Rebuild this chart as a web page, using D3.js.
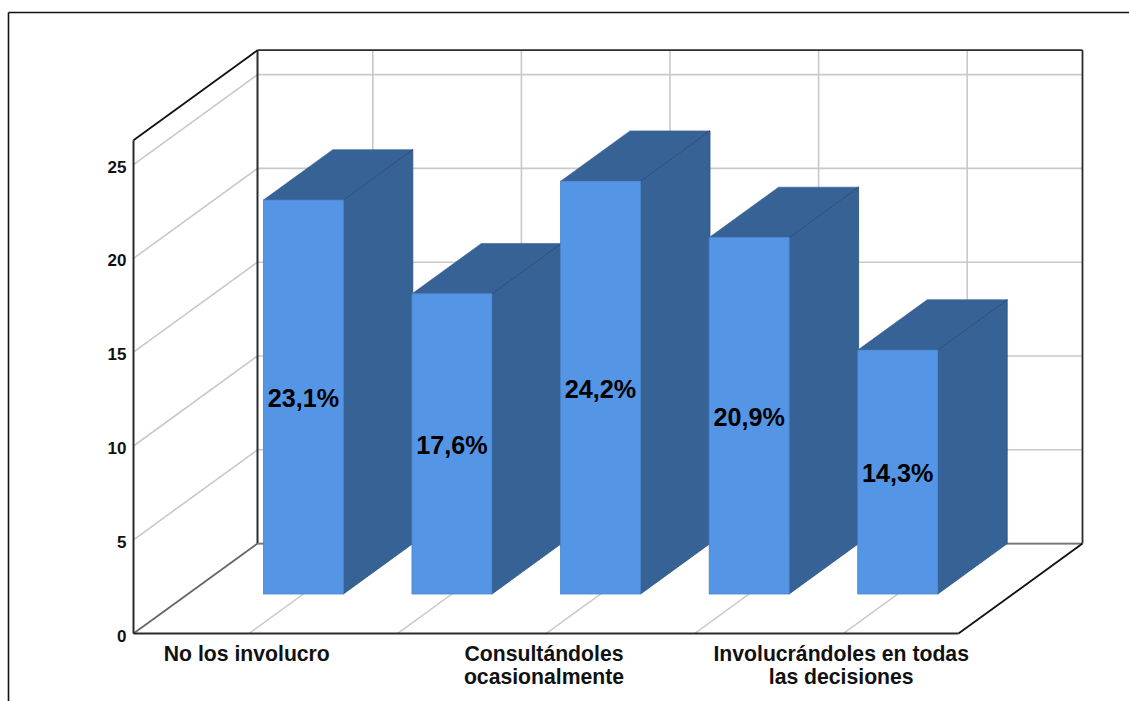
<!DOCTYPE html>
<html>
<head>
<meta charset="utf-8">
<script src="https://cdn.jsdelivr.net/npm/d3@7/dist/d3.min.js"></script>
<style>
  html, body { margin: 0; padding: 0; background: #fff; }
  svg { display: block; }
  text { font-family: "Liberation Sans", Arial, sans-serif; font-weight: bold; fill: #111; }
</style>
</head>
<body>
<div id="chart"></div>
<script>
// Respondent counts per answer, with the percentage printed on each bar
const categories = ["a", "b", "c", "d", "e"];
const counts = [21, 16, 22, 19, 13];
const percentLabels = ["23,1%", "17,6%", "24,2%", "20,9%", "14,3%"];
const categoryLabels = [
  { cat: "a", lines: ["No los involucro"] },
  { cat: "c", lines: ["Consultándoles", "ocasionalmente"] },
  { cat: "e", lines: ["Involucrándoles en todas", "las decisiones"] }
];
const yTicks = [0, 5, 10, 15, 20, 25];
const wallTopValue = 26.3;

const width = 1129, height = 701;
const depth = { dx: 124, dy: -90 };     // offset from the front plane to the back wall
const barStart = 0.44;                  // share of the depth where the bars begin
const barWidth = 80;
const colors = { front: "#5595e5", side: "#376295", edge: "#2a4f7c", grid: "#c9c9c9", axis: "#2b2b2b" };

const svg = d3.select("#chart").append("svg").attr("width", width).attr("height", height);

const x = d3.scalePoint().domain(categories).range([133.5, 958.5]).padding(0.776);
const y = d3.scaleLinear().domain([0, 25]).range([633.6, 164.6]);

const line = (g, x1, y1, x2, y2, color, w) => g.append("line")
  .attr("x1", x1).attr("y1", y1).attr("x2", x2).attr("y2", y2)
  .attr("stroke", color).attr("stroke-width", w);

// Outer frame: only the top and left edges are visible
const frame = svg.append("g");
line(frame, 8.5, 12.5, width, 12.5, "#111", 1.6);
line(frame, 8.5, 12.5, 8.5, height, "#111", 1.6);

// Grid lines on the side wall, the back wall and the floor
const grid = svg.append("g");
yTicks.filter(t => t > 0).forEach(t => {
  line(grid, x.range()[0], y(t), x.range()[0] + depth.dx, y(t) + depth.dy, colors.grid, 1.6);
});
yTicks.forEach(t => {
  line(grid, x.range()[0] + depth.dx, y(t) + depth.dy, x.range()[1] + depth.dx, y(t) + depth.dy, colors.grid, 1.6);
});
categories.forEach(c => {
  line(grid, x(c), y(0), x(c) + depth.dx, y(0) + depth.dy, colors.grid, 1.4);
  line(grid, x(c) + depth.dx, y(0) + depth.dy, x(c) + depth.dx, y(wallTopValue) + depth.dy, colors.grid, 1.6);
});

// Box edges of the plot
const box = svg.append("g");
const [x0, x1] = x.range();
const yTop = y(wallTopValue), yBase = y(0);
line(box, x0 + depth.dx, yTop + depth.dy, x1 + depth.dx, yTop + depth.dy, colors.axis, 1.8);
line(box, x0 + depth.dx, yTop + depth.dy, x0 + depth.dx, yBase + depth.dy, colors.axis, 2);
line(box, x1 + depth.dx, yTop + depth.dy, x1 + depth.dx, yBase + depth.dy, colors.axis, 1.8);
line(box, x0 + depth.dx, yBase + depth.dy, x1 + depth.dx, yBase + depth.dy, "#777", 1.8);
line(box, x0, yBase, x0 + depth.dx, yBase + depth.dy, "#666", 1.8);
line(box, x0, yTop, x0 + depth.dx, yTop + depth.dy, "#111", 1.8);
line(box, x1, yBase, x1 + depth.dx, yBase + depth.dy, "#111", 1.8);
line(box, x0, yBase, x1, yBase, colors.axis, 2);
line(box, x0, yTop, x0, yBase, colors.axis, 2);

// Bars, painted left to right so each one covers its neighbour's side face
const ox = depth.dx * barStart, oy = depth.dy * barStart;
const rx = depth.dx * (1 - barStart), ry = depth.dy * (1 - barStart);
const bars = svg.append("g").selectAll("g")
  .data(categories.map((c, i) => ({ c, v: counts[i], label: percentLabels[i] })))
  .join("g");

const poly = pts => pts.map(p => p.join(",")).join(" ");
bars.append("polygon")
  .attr("fill", colors.side).attr("stroke", colors.edge).attr("stroke-width", 0.8)
  .attr("points", d => {
    const r = x(d.c) + ox + barWidth / 2, t = y(d.v) + oy, b = yBase + oy;
    return poly([[r, t], [r + rx, t + ry], [r + rx, b + ry], [r, b]]);
  });
bars.append("polygon")
  .attr("fill", colors.side).attr("stroke", colors.side).attr("stroke-width", 0.6)
  .attr("points", d => {
    const l = x(d.c) + ox - barWidth / 2, r = l + barWidth, t = y(d.v) + oy;
    return poly([[l, t], [r, t], [r + rx, t + ry], [l + rx, t + ry]]);
  });
// Shared edge between the top and side faces
bars.append("line")
  .attr("stroke", colors.edge).attr("stroke-width", 0.9)
  .attr("x1", d => x(d.c) + ox + barWidth / 2)
  .attr("y1", d => y(d.v) + oy)
  .attr("x2", d => x(d.c) + ox + barWidth / 2 + rx)
  .attr("y2", d => y(d.v) + oy + ry);
bars.append("rect")
  .attr("fill", colors.front).attr("stroke", "#4a84c9").attr("stroke-width", 0.8)
  .attr("x", d => x(d.c) + ox - barWidth / 2)
  .attr("width", barWidth)
  .attr("y", d => y(d.v) + oy)
  .attr("height", d => yBase - y(d.v));
bars.append("text")
  .attr("x", d => x(d.c) + ox)
  .attr("y", d => y(d.v) + oy + (yBase - y(d.v)) / 2 + 1)
  .attr("dy", "0.36em")
  .attr("text-anchor", "middle")
  .attr("font-size", 25.2)
  .style("fill", "#000")
  .text(d => d.label);

// Value axis labels on the front edge of the side wall
const yAxis = svg.append("g")
  .attr("transform", `translate(${x0},2)`)
  .call(d3.axisLeft(y).tickValues(yTicks).tickSize(0).tickPadding(7));
yAxis.select(".domain").remove();
yAxis.selectAll("text").attr("font-size", 17).style("font-family", '"Liberation Sans", Arial, sans-serif');

// Category labels; only every second bar carries one
const catText = svg.append("g").selectAll("text").data(categoryLabels).join("text")
  .attr("text-anchor", "middle")
  .attr("font-size", 21.2);
catText.selectAll("tspan").data(d => d.lines.map(l => ({ l, c: d.cat }))).join("tspan")
  .attr("x", d => x(d.c) - 2)
  .attr("y", (d, i) => 660.5 + i * 23)
  .text(d => d.l);
</script>
</body>
</html>
